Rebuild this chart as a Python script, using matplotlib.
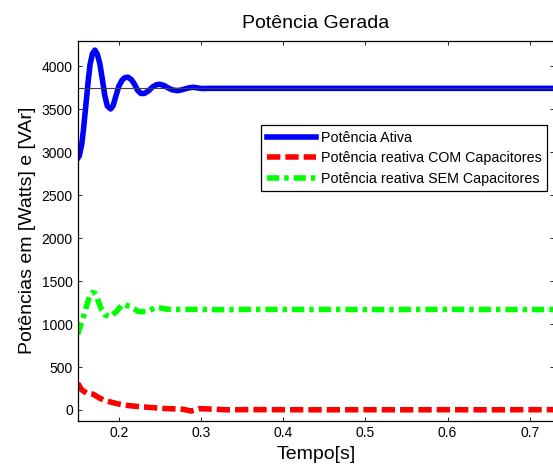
import matplotlib
matplotlib.use("Agg")
import matplotlib.pyplot as plt

plt.rcParams['font.family'] = ['Liberation Sans', 'DejaVu Sans']

# potencia ativa (W)
t_ativa = [0.150, 0.152, 0.155, 0.157, 0.159, 0.161, 0.163, 0.165, 0.168, 0.171,
           0.174, 0.177, 0.180, 0.183, 0.186, 0.190, 0.193, 0.196, 0.200, 0.204,
           0.207, 0.211, 0.215, 0.219, 0.223, 0.227, 0.231, 0.236, 0.241, 0.246,
           0.250, 0.255, 0.260, 0.265, 0.271, 0.276, 0.281, 0.286, 0.291, 0.296,
           0.301, 0.310, 0.350, 0.400, 0.450, 0.500, 0.550, 0.600, 0.650, 0.700, 0.730]
p_ativa = [2930, 2960, 3100, 3263, 3460, 3652, 3850, 4020, 4150, 4190,
           4140, 4030, 3850, 3660, 3540, 3505, 3540, 3640, 3770, 3840,
           3868, 3875, 3850, 3795, 3720, 3685, 3685, 3715, 3760, 3788,
           3792, 3778, 3750, 3728, 3718, 3726, 3740, 3752, 3757, 3750,
           3743, 3745, 3745, 3745, 3745, 3745, 3745, 3745, 3745, 3745, 3745]

# potencia reativa com capacitores (VAr)
t_com = [0.150, 0.155, 0.161, 0.169, 0.177, 0.185, 0.193, 0.205, 0.215, 0.226,
         0.242, 0.250, 0.262, 0.278, 0.288, 0.298, 0.315, 0.331, 0.360, 0.400,
         0.450, 0.500, 0.550, 0.600, 0.650, 0.700, 0.730]
q_com = [311, 233, 195, 183, 136, 105, 85, 58, 48, 38,
         27, 20, 15, 8, -12, 15, 10, 2, 4, 3,
         2, 3, 2, 3, 2, 3, 3]

# potencia reativa sem capacitores (VAr)
t_sem = [0.150, 0.157, 0.163, 0.165, 0.168, 0.171, 0.173, 0.179, 0.183, 0.190,
         0.197, 0.205, 0.214, 0.224, 0.234, 0.246, 0.258, 0.270, 0.290, 0.320,
         0.360, 0.400, 0.450, 0.500, 0.550, 0.600, 0.650, 0.700, 0.730]
q_sem = [880, 1087, 1282, 1340, 1367, 1355, 1321, 1166, 1107, 1087,
         1146, 1232, 1204, 1146, 1146, 1197, 1174, 1170, 1172, 1168,
         1172, 1170, 1171, 1169, 1170, 1171, 1170, 1169, 1170]

p_ref = 3745

fig = plt.figure(figsize=(5.53, 4.66), dpi=100)
ax = fig.add_axes([0.1405, 0.0972, 0.862, 0.8155])

ax.plot(t_ativa, p_ativa, color=(0, 0, 1), lw=4, label='Potência Ativa')
ax.plot(t_com, q_com, color=(1, 0, 0), lw=4, dashes=(2.4, 0.9),
        label='Potência reativa COM Capacitores')
ax.plot(t_sem, q_sem, color=(0, 1, 0), lw=4, dashes=(2.2, 0.9, 0.8, 0.9),
        label='Potência reativa SEM Capacitores')
ax.axhline(p_ref, color='#404040', lw=0.8)

ax.set_xlim(0.15, 0.73)
ax.set_ylim(-125, 4300)
ax.set_xticks([0.2, 0.3, 0.4, 0.5, 0.6, 0.7])
ax.set_yticks(range(0, 4001, 500))
ax.tick_params(direction='in', length=3, width=0.6, labelsize=10,
               top=True, right=True, colors='black')
ax.tick_params(axis='x', pad=4)
ax.tick_params(axis='y', pad=3.5)
for sp in ax.spines.values():
    sp.set_linewidth(0.9)

ax.set_title('Potência Gerada', fontsize=14, pad=9)
ax.set_xlabel('Tempo[s]', fontsize=14)
ax.set_ylabel('Potências em [Watts] e [VAr]', fontsize=14)
ax.xaxis.set_label_coords(0.5, -0.066)
ax.yaxis.set_label_coords(-0.0875, 0.5)

leg = ax.legend(loc='upper right', bbox_to_anchor=(0.985, 0.778), borderaxespad=0,
                fontsize=10.3, handlelength=3.4, handletextpad=0.35, labelspacing=0.45,
                borderpad=0.4, fancybox=False, framealpha=1, edgecolor='black')
leg.get_frame().set_linewidth(0.9)

fig.savefig('out.png', dpi=100)
